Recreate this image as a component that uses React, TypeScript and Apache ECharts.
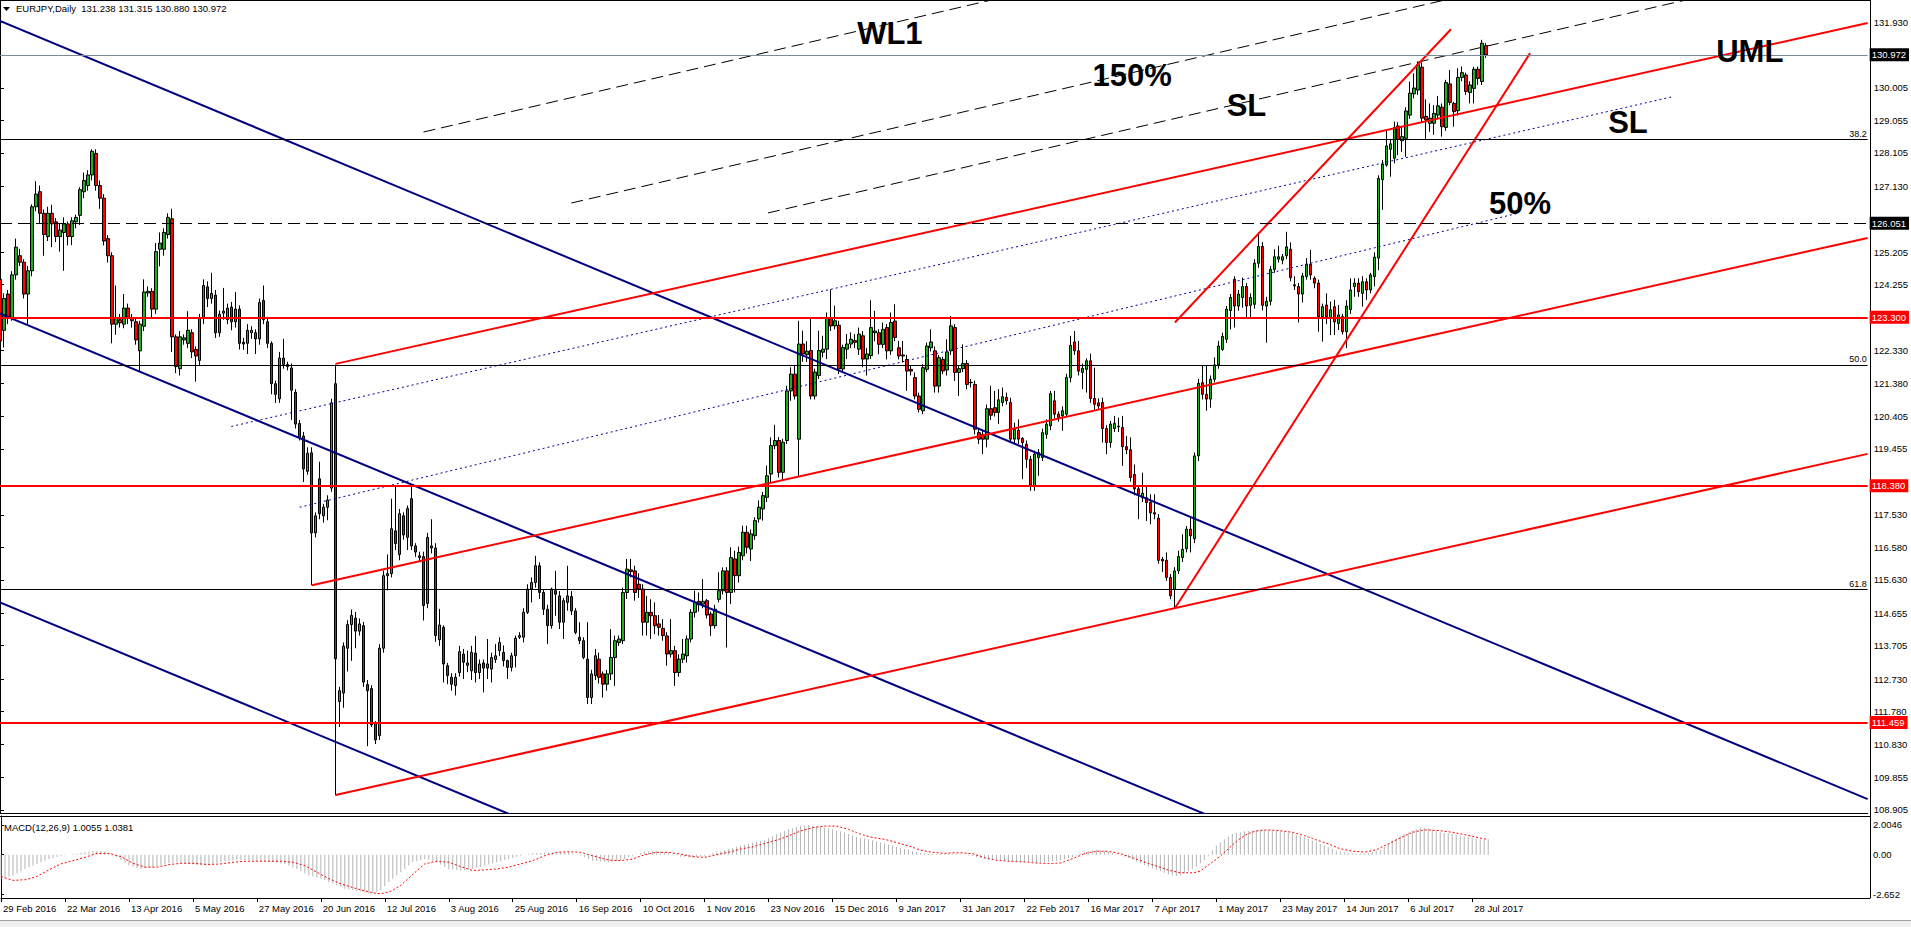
import React, { useEffect, useRef } from "react";
import * as echarts from "echarts";

// ---------- DATA ----------
const symbolName = "EURJPY,Daily";

// candles: [open, close, low, high], one per daily bar starting 29 Feb 2016
const candles: number[][] = [
  [124.41,122.61,122.40,124.50],[122.92,123.85,122.42,124.00],[123.98,123.29,123.10,124.10],[123.29,124.54,123.20,124.65],[124.54,125.35,124.40,125.60],
  [125.10,124.91,124.80,125.30],[124.91,123.98,123.85,125.00],[123.98,124.66,123.10,124.80],[124.66,126.53,124.50,126.60],[126.53,126.90,126.40,127.28],
  [126.97,126.34,126.03,127.15],[126.34,125.72,125.10,126.45],[125.66,126.34,125.53,126.53],[126.34,126.03,125.35,126.59],[126.09,125.66,125.50,126.20],
  [125.66,125.85,125.22,126.03],[125.78,126.03,124.66,126.22],[126.03,125.66,125.40,126.10],[125.66,126.12,125.41,126.22],[126.09,126.22,125.90,126.30],
  [126.28,127.03,126.00,127.10],[126.97,127.30,126.78,127.53],[127.15,127.46,127.00,127.60],[127.46,128.15,127.30,128.21],[128.09,127.15,127.00,128.21],
  [127.15,126.78,126.47,127.30],[126.78,125.53,125.40,126.90],[125.60,125.10,124.90,125.70],[125.10,123.10,122.54,125.20],[123.10,123.29,122.79,124.23],
  [123.23,123.14,123.00,123.40],[123.10,123.57,122.98,123.98],[123.57,123.29,123.10,123.70],[123.29,123.20,123.00,123.40],[123.17,122.64,122.50,123.30],
  [122.32,123.10,121.73,123.20],[123.04,124.04,122.90,124.41],[124.01,124.06,123.90,124.20],[124.06,123.54,123.29,124.15],[123.54,125.22,123.40,125.47],
  [125.29,125.47,124.79,125.78],[125.29,125.78,125.10,125.90],[125.72,126.22,125.60,126.34],[126.18,122.73,122.29,126.47],[122.73,121.86,121.67,122.80],
  [121.80,122.73,121.60,122.90],[122.64,122.70,122.50,122.80],[122.54,122.92,122.40,123.48],[122.85,122.29,122.11,122.95],[122.36,122.17,121.42,122.45],
  [122.04,123.29,121.90,123.40],[123.29,124.23,123.10,124.41],[124.19,123.85,123.60,124.35],[123.85,124.00,123.70,124.60],[123.95,122.85,122.70,124.10],
  [122.85,123.39,122.73,123.50],[123.42,123.48,123.23,124.16],[123.23,123.57,123.10,123.70],[123.60,123.17,122.92,123.75],[123.17,123.54,123.00,124.04],
  [123.54,122.54,122.36,123.65],[122.57,122.52,122.35,122.70],[122.54,122.92,122.23,123.10],[122.85,122.92,122.67,123.04],[122.85,122.67,122.23,122.95],
  [122.67,123.73,122.50,123.85],[123.79,123.23,123.10,124.23],[123.17,122.54,122.40,123.30],[122.54,121.36,121.05,122.60],[121.36,121.05,120.80,121.45],
  [120.92,122.11,120.80,122.29],[122.11,121.92,121.80,122.67],[121.92,121.86,121.75,122.00],[121.82,121.17,120.30,121.95],[121.11,120.18,120.05,121.20],
  [120.20,119.80,119.70,120.30],[119.83,118.87,118.49,119.95],[118.80,119.33,118.70,119.50],[119.34,117.00,115.47,119.50],[117.00,117.50,116.87,117.60],
  [118.58,117.56,117.40,119.08],[117.50,117.75,117.30,117.85],[117.75,117.96,117.37,118.10],[118.31,120.80,118.20,120.92],[121.36,113.32,109.33,121.92],
  [112.07,112.39,111.33,112.50],[112.32,113.69,111.89,113.80],[113.63,114.32,112.95,114.45],[114.32,114.59,113.26,114.76],[114.51,114.13,113.63,114.69],
  [114.13,114.34,114.00,114.50],[114.29,112.64,112.50,114.40],[112.57,112.39,110.77,112.70],[112.45,111.39,111.33,112.55],[111.45,110.95,110.83,111.50],
  [111.08,113.63,110.95,113.75],[113.63,115.75,113.50,115.90],[115.75,115.81,115.32,116.37],[115.81,117.12,115.70,118.00],[117.06,116.69,116.50,118.37],
  [116.37,117.56,116.20,117.70],[117.50,116.94,116.80,117.60],[116.87,117.71,116.50,117.80],[118.00,116.62,116.50,118.43],[116.62,116.44,116.30,116.70],
  [116.33,116.28,116.15,116.45],[116.31,114.88,114.44,116.45],[114.94,116.87,114.80,117.00],[116.62,116.56,116.40,117.40],[116.56,114.00,113.82,116.70],
  [113.88,114.31,113.70,114.78],[114.24,113.17,112.63,114.30],[113.12,112.83,112.58,113.20],[112.78,112.58,112.39,112.90],[112.54,112.78,112.25,112.90],
  [112.92,113.53,112.80,113.70],[113.46,113.22,112.73,113.61],[113.13,113.20,112.93,113.56],[112.97,113.51,112.70,113.70],[113.49,112.92,112.63,113.99],
  [112.92,113.17,112.73,113.30],[113.20,113.05,112.34,113.30],[113.05,113.17,112.73,113.90],[113.02,113.36,112.63,113.50],[113.30,113.41,113.20,113.75],
  [113.56,113.80,113.40,113.95],[113.51,113.27,113.10,113.71],[113.27,113.07,112.73,113.30],[113.07,113.41,112.95,113.50],[113.41,113.92,113.07,114.00],
  [113.95,114.00,113.90,114.10],[113.95,114.68,113.80,114.80],[114.68,115.36,114.63,115.50],[115.36,115.55,114.97,115.70],[115.55,116.04,115.40,116.33],
  [116.04,115.26,115.07,116.14],[115.26,114.77,114.60,115.35],[114.77,114.29,113.75,114.90],[114.29,115.36,114.20,115.40],[115.31,115.21,114.58,115.89],
  [115.16,114.39,114.19,115.30],[114.39,115.02,113.90,115.10],[114.97,115.16,114.73,116.04],[115.14,114.72,114.60,115.30],[114.72,114.09,114.04,114.80],
  [113.95,113.85,113.75,114.39],[113.85,113.36,113.31,113.95],[113.31,112.19,112.00,114.39],[112.19,112.88,112.00,113.00],[112.83,113.41,112.70,113.61],
  [113.31,112.78,112.60,113.50],[112.88,112.58,112.19,112.95],[112.58,112.88,112.39,113.00],[112.88,113.36,112.70,114.19],[113.36,113.85,112.53,114.00],
  [113.80,113.90,113.70,114.00],[113.85,115.26,113.75,115.40],[115.26,115.94,115.07,116.24],[115.92,115.87,115.70,116.24],[115.89,115.26,115.02,116.04],
  [115.50,115.36,115.10,115.82],[115.36,114.39,114.00,115.50],[114.39,114.68,114.00,115.16],[114.68,114.58,113.90,115.06],[114.58,114.29,114.04,114.97],
  [114.34,114.24,114.00,114.60],[114.21,114.00,113.85,114.48],[113.99,113.46,113.12,114.10],[113.46,113.56,113.36,114.48],[113.56,112.92,112.53,113.70],
  [112.92,113.31,112.80,113.45],[113.31,113.46,113.20,113.90],[113.41,113.90,113.21,114.00],[113.90,114.68,113.80,114.77],[114.68,114.97,114.53,115.31],
  [115.00,114.90,114.70,115.26],[114.92,115.00,114.80,115.65],[115.02,114.60,114.50,115.07],[114.63,114.29,113.99,114.70],[114.29,114.77,114.20,114.90],
  [115.06,115.31,114.97,115.85],[115.31,115.89,115.20,115.99],[115.89,115.26,113.65,116.00],[115.26,116.28,114.92,116.58],[116.24,115.75,115.26,116.48],
  [115.75,116.43,115.55,116.60],[116.33,117.02,116.20,117.21],[117.02,116.58,116.40,117.21],[116.53,116.97,116.18,117.10],[116.92,117.36,116.80,117.46],
  [117.41,117.75,117.30,117.95],[117.70,118.09,117.36,118.20],[118.04,118.67,117.90,118.97],[118.72,119.55,118.48,119.79],[119.55,119.70,119.45,120.16],
  [119.70,118.77,118.62,119.80],[118.77,119.65,118.53,119.75],[119.70,121.15,119.60,121.30],[121.15,121.64,120.86,121.84],[121.64,121.00,120.90,121.89],
  [119.74,122.52,118.67,123.20],[122.52,122.23,122.00,122.91],[122.21,122.31,122.00,122.60],[122.33,121.00,120.90,123.30],[121.00,121.70,120.90,121.80],
  [121.60,122.33,121.50,122.91],[122.28,122.37,122.13,122.76],[122.37,123.27,122.08,123.44],[123.27,123.05,122.90,124.12],[123.05,123.20,122.95,123.64],
  [123.07,121.79,121.64,123.20],[121.79,122.42,121.70,122.50],[122.37,122.52,122.08,122.81],[122.52,122.66,122.40,122.86],[122.62,122.57,122.40,122.81],
  [122.37,122.81,122.20,123.00],[122.76,122.08,121.84,122.90],[122.08,122.23,121.60,122.40],[122.18,123.00,122.08,123.80],[122.85,122.90,122.60,123.49],
  [122.85,122.51,122.22,122.95],[122.51,122.95,122.40,123.15],[123.00,122.32,122.07,123.10],[122.32,123.15,122.20,123.44],[123.19,122.71,122.60,123.68],
  [122.41,122.17,122.07,122.61],[122.20,122.17,121.98,122.61],[122.07,121.73,121.15,122.20],[121.78,121.73,121.60,121.90],[121.54,121.00,120.90,121.69],
  [121.00,120.61,120.52,121.10],[120.57,121.83,120.47,121.93],[121.78,122.46,121.70,122.56],[122.41,122.58,122.30,122.95],[122.32,121.29,121.10,122.45],
  [121.29,122.12,121.10,122.20],[122.07,121.73,121.64,122.15],[121.76,122.29,121.60,122.66],[122.32,123.05,122.20,123.34],[123.00,121.69,121.44,123.10],
  [121.69,121.80,121.00,121.90],[121.80,121.95,121.70,122.51],[121.95,121.34,121.20,122.05],[121.40,121.39,121.25,121.50],[121.34,120.03,119.88,121.45],
  [119.93,119.74,119.60,120.03],[119.88,119.74,119.30,120.00],[119.74,120.63,119.50,120.75],[120.63,120.44,120.30,121.30],[120.66,120.52,120.40,121.15],
  [120.52,120.89,120.18,121.20],[120.81,120.98,120.70,121.25],[120.96,120.86,120.75,121.10],[120.81,119.74,119.64,120.95],[119.74,120.03,119.60,120.22],
  [120.00,119.74,119.60,120.32],[119.76,119.64,118.57,119.80],[119.59,119.15,118.90,119.70],[119.15,118.37,118.23,119.25],[118.37,119.30,118.23,119.40],
  [119.20,119.35,118.67,119.45],[119.20,119.93,119.10,120.05],[119.88,120.18,119.75,120.32],[120.13,121.07,120.00,121.15],[120.86,120.47,120.35,121.15],
  [120.47,120.37,120.25,120.55],[120.42,120.57,119.98,120.70],[120.47,121.54,120.40,121.65],[121.54,122.48,121.40,122.76],[122.58,122.32,122.20,122.90],
  [122.32,121.73,121.60,122.61],[121.69,121.81,121.20,121.95],[121.78,122.03,121.10,122.10],[122.03,120.93,120.80,122.24],[120.93,120.76,120.60,121.83],
  [120.80,120.71,120.60,120.93],[120.81,120.05,119.64,120.95],[120.05,119.64,119.30,120.15],[119.64,120.18,119.49,120.27],[120.05,120.20,119.95,120.42],
  [120.12,120.10,119.95,120.37],[120.08,119.52,118.96,120.42],[119.52,119.43,119.30,119.83],[119.43,118.62,118.50,119.79],[118.71,118.29,118.10,119.00],
  [118.29,118.13,117.40,118.40],[118.03,118.16,117.90,118.76],[118.03,117.89,117.35,118.37],[117.89,117.59,117.25,118.13],[117.59,117.55,117.40,118.13],
  [117.43,116.20,116.10,117.55],[116.23,116.18,115.86,116.30],[116.20,115.70,115.60,116.43],[115.70,115.16,115.06,115.80],[115.35,115.89,114.82,116.00],
  [115.89,116.31,115.80,116.48],[116.28,116.52,116.15,116.96],[116.54,117.11,116.43,117.20],[117.11,116.91,116.43,117.45],[116.83,119.25,116.70,119.35],
  [119.25,121.37,119.10,121.50],[121.39,121.05,120.90,121.88],[121.05,120.91,120.57,121.88],[120.91,121.49,120.66,121.60],[121.49,121.91,121.40,122.13],
  [121.91,122.46,121.80,122.61],[122.36,122.74,122.32,122.85],[122.66,123.54,122.55,123.63],[123.50,123.88,122.95,123.98],[124.41,123.63,123.00,124.50],
  [123.63,123.98,123.49,124.10],[123.88,124.20,123.58,124.46],[124.20,123.63,123.30,124.30],[123.65,123.88,123.30,124.00],[123.68,124.88,123.55,125.00],
  [124.88,125.37,124.75,125.78],[125.37,123.65,123.50,125.50],[123.63,123.77,122.56,123.90],[123.77,124.70,123.65,124.80],[124.70,125.07,124.60,125.29],
  [125.00,125.07,124.90,125.39],[124.97,125.07,124.85,125.15],[125.10,125.36,125.00,125.80],[125.29,124.46,124.35,125.49],[124.25,124.22,124.10,124.50],
  [124.20,123.98,123.15,124.30],[123.98,124.51,123.73,124.60],[124.49,124.85,124.40,125.03],[124.85,124.54,124.40,125.27],[124.44,124.30,124.15,124.50],
  [124.30,123.32,122.88,124.40],[123.32,123.61,122.59,123.70],[123.66,123.32,123.10,124.00],[123.27,123.52,122.78,123.76],[123.61,123.17,122.78,123.81],
  [123.12,123.37,122.93,123.66],[123.32,122.88,122.80,123.40],[122.88,123.63,122.40,123.80],[123.53,124.10,123.40,124.44],[124.20,124.30,123.90,124.44],
  [124.30,124.05,123.90,124.44],[124.00,124.34,123.61,124.50],[124.34,124.10,123.81,124.44],[124.10,124.54,124.00,124.60],[124.49,125.06,124.20,125.20],
  [125.03,127.36,124.68,127.45],[127.32,127.78,126.44,127.90],[127.75,128.31,127.70,128.77],[128.21,128.37,127.41,128.50],[127.95,128.85,127.80,129.02],
  [128.89,128.50,128.04,129.00],[128.46,128.58,128.14,128.87],[128.53,129.33,127.99,129.44],[129.21,129.85,129.10,130.19],[129.83,130.00,129.70,130.43],
  [129.94,130.68,129.80,130.77],[130.61,129.12,129.00,130.75],[129.17,129.07,128.48,129.67],[128.97,129.12,128.72,129.55],[128.97,129.26,128.63,129.50],
  [129.21,129.48,129.10,129.77],[129.44,128.87,128.58,129.55],[128.85,130.16,128.75,130.24],[130.12,129.58,129.50,130.53],[129.55,129.31,128.87,129.60],
  [129.34,130.31,129.20,130.58],[130.31,130.45,130.20,130.63],[130.38,129.90,129.80,130.45],[129.87,130.09,129.55,130.20],[129.99,130.55,129.55,130.62],
  [130.55,130.28,130.09,130.63],[130.19,131.31,130.09,131.41],[131.238,130.972,130.880,131.315],
];

const macdMain: number[] = [
  -1.62,-1.55,-1.48,-1.40,-1.26,-1.11,-0.96,-0.85,-0.73,-0.62,
  -0.51,-0.40,-0.29,-0.22,-0.14,-0.07,-0.03,0.00,0.04,0.08,
  0.12,0.16,0.21,0.25,0.27,0.25,0.22,0.09,-0.04,-0.18,
  -0.36,-0.55,-0.73,-0.81,-0.89,-0.96,-0.92,-0.88,-0.84,-0.77,
  -0.69,-0.62,-0.58,-0.55,-0.51,-0.55,-0.58,-0.62,-0.66,-0.69,
  -0.73,-0.69,-0.66,-0.62,-0.56,-0.50,-0.44,-0.41,-0.39,-0.36,
  -0.36,-0.36,-0.36,-0.37,-0.39,-0.40,-0.44,-0.48,-0.51,-0.55,
  -0.59,-0.62,-0.73,-0.85,-0.96,-1.11,-1.25,-1.40,-1.47,-1.55,
  -1.62,-1.73,-1.85,-1.96,-2.07,-2.18,-2.29,-2.34,-2.39,-2.44,
  -2.49,-2.55,-2.60,-2.60,-2.53,-2.40,-2.12,-1.84,-1.62,-1.40,
  -1.18,-0.96,-0.73,-0.51,-0.44,-0.36,-0.29,-0.36,-0.44,-0.51,
  -0.66,-0.81,-0.96,-1.00,-1.04,-1.07,-1.03,-1.00,-0.96,-0.88,
  -0.81,-0.73,-0.66,-0.58,-0.51,-0.44,-0.36,-0.29,-0.22,-0.14,
  -0.07,-0.02,0.04,0.09,0.11,0.14,0.16,0.16,0.16,0.16,
  0.16,0.16,0.16,0.08,0.01,-0.07,-0.18,-0.29,-0.40,-0.43,
  -0.46,-0.49,-0.51,-0.47,-0.44,-0.40,-0.29,-0.18,-0.07,0.03,
  0.13,0.22,0.24,0.26,0.27,0.23,0.20,0.16,0.06,-0.03,
  -0.13,-0.15,-0.17,-0.18,-0.14,-0.11,-0.07,0.01,0.09,0.16,
  0.23,0.31,0.38,0.45,0.53,0.60,0.67,0.75,0.82,0.87,
  0.93,0.98,1.11,1.25,1.38,1.49,1.60,1.71,1.78,1.86,
  1.93,1.97,2.00,1.96,1.91,1.87,1.82,1.76,1.71,1.64,
  1.56,1.49,1.39,1.30,1.20,1.15,1.09,1.04,0.97,0.89,
  0.82,0.75,0.67,0.60,0.53,0.45,0.38,0.31,0.23,0.16,
  0.12,0.08,0.04,0.04,0.04,0.04,0.05,0.06,0.06,0.04,
  0.01,-0.02,-0.06,-0.11,-0.17,-0.23,-0.28,-0.33,-0.36,-0.39,
  -0.42,-0.43,-0.44,-0.45,-0.46,-0.47,-0.49,-0.51,-0.53,-0.56,
  -0.53,-0.51,-0.49,-0.45,-0.42,-0.38,-0.31,-0.23,-0.16,-0.05,
  0.07,0.18,0.23,0.28,0.33,0.28,0.23,0.18,0.11,0.03,
  -0.04,-0.14,-0.23,-0.33,-0.46,-0.58,-0.71,-0.82,-0.93,-1.01,
  -1.10,-1.21,-1.32,-1.40,-1.44,-1.38,-1.25,-1.10,-0.95,-0.82,
  -0.58,-0.35,-0.11,0.29,0.60,0.84,1.05,1.22,1.40,1.46,
  1.52,1.58,1.61,1.64,1.67,1.67,1.67,1.67,1.64,1.61,
  1.58,1.53,1.49,1.44,1.35,1.27,1.18,1.07,0.95,0.84,
  0.73,0.62,0.51,0.40,0.29,0.21,0.16,0.12,0.09,0.07,
  0.08,0.09,0.11,0.18,0.26,0.33,0.54,0.75,0.96,1.11,
  1.26,1.40,1.51,1.62,1.73,1.84,1.81,1.78,1.69,1.60,
  1.51,1.47,1.44,1.40,1.34,1.28,1.22,1.17,1.12,1.08,
  1.05,1.03,1.0055,
];

const macdSignal: number[] = [
  -1.47,-1.56,-1.65,-1.73,-1.72,-1.70,-1.69,-1.62,-1.55,-1.47,
  -1.32,-1.17,-1.02,-0.89,-0.75,-0.62,-0.55,-0.47,-0.40,-0.33,
  -0.25,-0.18,-0.09,0.00,0.09,0.09,0.09,0.09,0.02,-0.06,
  -0.13,-0.28,-0.43,-0.58,-0.67,-0.75,-0.84,-0.84,-0.84,-0.84,
  -0.78,-0.73,-0.67,-0.64,-0.61,-0.58,-0.58,-0.58,-0.58,-0.60,
  -0.62,-0.65,-0.67,-0.65,-0.64,-0.62,-0.58,-0.55,-0.51,-0.49,
  -0.46,-0.44,-0.44,-0.44,-0.44,-0.44,-0.44,-0.44,-0.44,-0.44,
  -0.44,-0.46,-0.49,-0.51,-0.58,-0.66,-0.73,-0.88,-1.03,-1.18,
  -1.33,-1.47,-1.62,-1.73,-1.85,-1.96,-2.05,-2.13,-2.22,-2.29,
  -2.37,-2.44,-2.50,-2.56,-2.62,-2.62,-2.58,-2.51,-2.40,-2.22,
  -2.07,-1.82,-1.58,-1.33,-1.09,-0.86,-0.62,-0.56,-0.50,-0.44,
  -0.46,-0.49,-0.51,-0.61,-0.70,-0.80,-0.89,-0.98,-1.07,-1.05,
  -1.04,-1.02,-1.00,-0.98,-0.96,-0.92,-0.88,-0.84,-0.77,-0.69,
  -0.62,-0.55,-0.47,-0.40,-0.29,-0.18,-0.07,0.01,0.08,0.16,
  0.17,0.19,0.20,0.19,0.17,0.16,0.08,0.01,-0.07,-0.14,
  -0.22,-0.29,-0.36,-0.37,-0.39,-0.40,-0.36,-0.33,-0.29,-0.19,
  -0.10,0.00,0.05,0.11,0.16,0.16,0.16,0.16,0.12,0.08,
  0.04,-0.02,-0.07,-0.13,-0.15,-0.17,-0.18,-0.12,-0.06,0.00,
  0.05,0.11,0.16,0.23,0.31,0.38,0.43,0.48,0.53,0.61,
  0.68,0.76,0.83,0.91,0.98,1.08,1.17,1.27,1.38,1.49,
  1.60,1.67,1.75,1.82,1.86,1.89,1.93,1.93,1.93,1.93,
  1.86,1.78,1.71,1.60,1.49,1.38,1.31,1.23,1.16,1.12,
  1.08,1.04,0.97,0.89,0.82,0.75,0.67,0.60,0.50,0.41,
  0.31,0.26,0.21,0.16,0.14,0.11,0.09,0.11,0.13,0.13,
  0.13,0.11,0.09,0.07,-0.02,-0.11,-0.20,-0.26,-0.32,-0.38,
  -0.40,-0.42,-0.44,-0.46,-0.47,-0.48,-0.49,-0.51,-0.54,-0.56,
  -0.57,-0.59,-0.60,-0.59,-0.57,-0.56,-0.46,-0.37,-0.27,-0.16,
  -0.05,0.07,0.13,0.18,0.24,0.23,0.23,0.22,0.17,0.12,
  0.07,-0.02,-0.11,-0.20,-0.30,-0.39,-0.49,-0.59,-0.68,-0.76,
  -0.85,-0.95,-1.04,-1.10,-1.16,-1.22,-1.22,-1.22,-1.22,-1.18,
  -1.10,-0.90,-0.70,-0.50,-0.30,-0.10,0.15,0.40,0.65,0.90,
  1.10,1.28,1.42,1.52,1.60,1.64,1.66,1.67,1.66,1.64,
  1.62,1.58,1.55,1.51,1.44,1.36,1.29,1.19,1.10,1.00,
  0.91,0.82,0.73,0.62,0.51,0.40,0.35,0.30,0.24,0.22,
  0.20,0.18,0.22,0.27,0.33,0.46,0.60,0.73,0.86,1.00,
  1.13,1.26,1.38,1.51,1.56,1.62,1.67,1.67,1.65,1.64,
  1.62,1.58,1.55,1.51,1.46,1.41,1.36,1.30,1.24,1.18,
  1.12,1.07,1.0381,
];

const dateLabels = [
  "29 Feb 2016","22 Mar 2016","13 Apr 2016","5 May 2016","27 May 2016","20 Jun 2016",
  "12 Jul 2016","3 Aug 2016","25 Aug 2016","16 Sep 2016","10 Oct 2016","1 Nov 2016",
  "23 Nov 2016","15 Dec 2016","9 Jan 2017","31 Jan 2017","22 Feb 2017","16 Mar 2017",
  "7 Apr 2017","1 May 2017","23 May 2017","14 Jun 2017","6 Jul 2017","28 Jul 2017",
];
const dateLabelBars = [0,16,32,48,64,80,96,112,128,144,160,176,192,208,224,240,256,272,288,304,320,336,352,368];

const priceTickLabels = [
  131.930,130.005,129.055,128.105,127.130,125.205,124.255,122.330,121.380,120.405,119.455,
  117.530,116.580,115.630,114.655,113.705,112.730,111.780,110.830,109.855,108.905,
];
const macdTickLabels = [2.0046, 0, -2.652];

const bidPrice = 130.972;
const dashedLevel = 126.051;
const redLevels = [123.300, 118.380, 111.459];
const fibLevels = [128.51, 121.91, 115.35];
const fibNames = ["38.2", "50.0", "61.8"];

// trend lines as [barIndex, price] point pairs
const blueLines = [
  [[0, 131.96], [467.5, 109.22]],
  [[0, 123.41], [325, 107.65]],
  [[0, 114.97], [150, 107.69]],
];
const redLines = [
  [[84, 121.94], [467.5, 131.90]],
  [[78.1, 115.47], [467.5, 125.62]],
  [[84, 109.34], [467.5, 119.31]],
  [[294.1, 123.15], [363.2, 131.72]],
  [[294.1, 114.80], [383, 131.02]],
];
const dashedLines = [
  [[106, 128.715], [280.5, 133.45]],
  [[143, 126.64], [394, 133.45]],
  [[192.25, 126.35], [454.3, 133.45]],
];
const dottedLines = [
  [[57.9, 120.11], [418.75, 129.75]],
  [[75, 117.75], [380.25, 126.35]],
];
const textNotes = [
  { name: "WL1", pos: [222.75, 131.59] },
  { name: "150%", pos: [283.4, 130.37] },
  { name: "SL", pos: [312, 129.50] },
  { name: "UML", pos: [438, 131.08] },
  { name: "SL", pos: [407.5, 128.99] },
  { name: "50%", pos: [380.5, 126.64] },
];

// ---------- CHART ----------
const FONT = "'Liberation Sans', Arial, sans-serif";

export default function App() {
  const ref = useRef<HTMLDivElement>(null);

  useEffect(() => {
    if (!ref.current) return;
    const chart = echarts.init(ref.current, undefined, { renderer: "svg" });

    const X_MAX = 467.5;
    const last = candles[candles.length - 1];
    const fmt3 = (v: number) => v.toFixed(3);

    const markerLabel = (bg: string) => ({
      show: true,
      position: "end",
      distance: 2,
      color: "#fff",
      backgroundColor: bg,
      padding: [2, 3, 1, 2],
      fontSize: 9.5,
      fontFamily: FONT,
    });

    const markData: any[] = [
      { yAxis: bidPrice, lineStyle: { color: "#7a8a99", width: 1, type: "solid" }, label: { ...markerLabel("#000"), formatter: fmt3(bidPrice) } },
      { yAxis: dashedLevel, lineStyle: { color: "#000", width: 1, type: [12, 6] }, label: { ...markerLabel("#000"), formatter: fmt3(dashedLevel) } },
      ...redLevels.map((v) => ({ yAxis: v, lineStyle: { color: "#ff0000", width: 2, type: "solid" }, label: { ...markerLabel("#ff0000"), formatter: fmt3(v) } })),
      ...fibLevels.map((v, i) => ({
        yAxis: v,
        lineStyle: { color: "#000", width: 1, type: "solid" },
        label: { show: true, position: "insideEndTop", distance: 1, formatter: fibNames[i], color: "#000", fontSize: 9, fontFamily: FONT, padding: 0 },
      })),
    ];

    const lineSeries = (pts: number[][], style: any, z: number) => ({
      type: "line",
      xAxisIndex: 0,
      yAxisIndex: 0,
      data: pts,
      showSymbol: false,
      symbol: "none",
      clip: true,
      silent: true,
      z,
      lineStyle: style,
      animation: false,
    });

    const option: any = {
      animation: false,
      backgroundColor: "#ffffff",
      textStyle: { fontFamily: FONT },
      grid: [
        { left: 0, top: 0, width: 1870, height: 813 },
        { left: 0, top: 816, width: 1870, height: 82 },
      ],
      xAxis: [
        {
          type: "value", gridIndex: 0, min: 0, max: X_MAX,
          axisLine: { show: true, onZero: false, lineStyle: { color: "#000", width: 1 } },
          axisTick: { show: false }, axisLabel: { show: false }, splitLine: { show: false },
        },
        {
          type: "value", gridIndex: 1, min: 0, max: X_MAX, position: "bottom",
          axisLine: { show: true, onZero: false, lineStyle: { color: "#000", width: 1 } },
          axisTick: { show: true, customValues: dateLabelBars, length: 4, lineStyle: { color: "#000" } },
          axisLabel: {
            show: true, customValues: dateLabelBars,
            formatter: (v: number) => { const k = dateLabelBars.indexOf(Math.round(v)); return k >= 0 ? dateLabels[k] : ""; },
            align: "left", padding: [0, 0, 0, 2], margin: 5, fontSize: 9.5, color: "#000", fontFamily: FONT,
          },
          splitLine: { show: false },
        },
      ],
      yAxis: [
        {
          type: "value", gridIndex: 0, position: "right", min: 108.815, max: 132.573,
          axisLine: { show: true, lineStyle: { color: "#000", width: 1 } },
          axisTick: { show: true, customValues: priceTickLabels, length: 4, lineStyle: { color: "#000" } },
          axisLabel: { show: true, customValues: priceTickLabels, formatter: (v: number) => v.toFixed(3), margin: 6, fontSize: 9.5, color: "#000", fontFamily: FONT },
          splitLine: { show: false },
        },
        {
          type: "value", gridIndex: 1, position: "right", min: -2.92, max: 2.61,
          axisLine: { show: true, lineStyle: { color: "#000", width: 1 } },
          axisTick: { show: true, customValues: macdTickLabels, length: 3, lineStyle: { color: "#000" } },
          axisLabel: { show: true, customValues: macdTickLabels, formatter: (v: number) => (v === 0 ? "0.00" : String(v)), margin: 3, fontSize: 9.5, color: "#000", fontFamily: FONT },
          splitLine: { show: false },
        },
      ],
      series: [
        {
          type: "candlestick",
          name: "EURJPY",
          xAxisIndex: 0,
          yAxisIndex: 0,
          data: candles.map((c, i) => [i, c[0], c[1], c[2], c[3]]),
          encode: { x: 0, y: [1, 2, 3, 4] },
          barWidth: 3,
          clip: true,
          silent: true,
          z: 2,
          itemStyle: { color: "#1fae1f", color0: "#ff0000", borderColor: "#000", borderColor0: "#000", borderWidth: 1 },
          markLine: { symbol: ["none", "none"], silent: true, animation: false, data: markData, z: 5 },
        },
        ...blueLines.map((p) => lineSeries(p, { color: "#000080", width: 2 }, 3)),
        ...redLines.map((p) => lineSeries(p, { color: "#ff0000", width: 2 }, 4)),
        ...dashedLines.map((p) => lineSeries(p, { color: "#000", width: 1, type: [12, 6] }, 3)),
        ...dottedLines.map((p) => lineSeries(p, { color: "#0000a0", width: 1, type: [2, 3] }, 3)),
        {
          type: "scatter",
          xAxisIndex: 0,
          yAxisIndex: 0,
          data: textNotes.map((t) => ({ name: t.name, value: t.pos })),
          symbolSize: 1,
          itemStyle: { color: "#000", opacity: 0 },
          silent: true,
          z: 8,
          label: {
            show: true, position: "inside", formatter: "{b}", fontSize: 31, fontWeight: "bold",
            color: "#000", opacity: 1, textBorderWidth: 0, fontFamily: FONT,
          },
        },
        {
          type: "bar",
          xAxisIndex: 1,
          yAxisIndex: 1,
          data: macdMain.map((v, i) => [i, v]),
          barWidth: 1,
          silent: true,
          itemStyle: { color: "#b4b4b4" },
          z: 2,
        },
        {
          type: "line",
          xAxisIndex: 1,
          yAxisIndex: 1,
          data: macdSignal.map((v, i) => [i, v]),
          showSymbol: false,
          symbol: "none",
          silent: true,
          z: 3,
          lineStyle: { color: "#ff0000", width: 1, type: [2, 2] },
        },
      ],
      graphic: [
        { type: "line", shape: { x1: 0, y1: 0.5, x2: 1870, y2: 0.5 }, style: { stroke: "#000", lineWidth: 1 }, silent: true },
        { type: "line", shape: { x1: 0, y1: 816.5, x2: 1870, y2: 816.5 }, style: { stroke: "#000", lineWidth: 1 }, silent: true },
        { type: "line", shape: { x1: 1870.5, y1: 0, x2: 1870.5, y2: 898 }, style: { stroke: "#000", lineWidth: 1 }, silent: true },
        { type: "polygon", shape: { points: [[3, 7], [10, 7], [6.5, 11]] }, style: { fill: "#000" }, silent: true },
        {
          type: "text", left: 16, top: 3, silent: true,
          style: { text: `${symbolName}  ${fmt3(last[0])} ${fmt3(last[3])} ${fmt3(last[2])} ${fmt3(last[1])}`, fill: "#000", font: `9.5px ${FONT}` },
        },
        {
          type: "text", left: 4, top: 822, silent: true,
          style: { text: `MACD(12,26,9) ${macdMain[macdMain.length - 1].toFixed(4)} ${macdSignal[macdSignal.length - 1].toFixed(4)}`, fill: "#000", font: `9.5px ${FONT}` },
        },
        { type: "rect", shape: { x: 0, y: 920, width: 1911, height: 7 }, style: { fill: "#f0f0f0" }, silent: true },
        { type: "line", shape: { x1: 0, y1: 920.5, x2: 1911, y2: 920.5 }, style: { stroke: "#a0a0a0", lineWidth: 1 }, silent: true },
      ],
    };

    chart.setOption(option);
    return () => chart.dispose();
  }, []);

  return (
    <div
      ref={ref}
      style={{ position: "absolute", left: 0, top: 0, width: 1911, height: 927, background: "#fff" }}
    />
  );
}
